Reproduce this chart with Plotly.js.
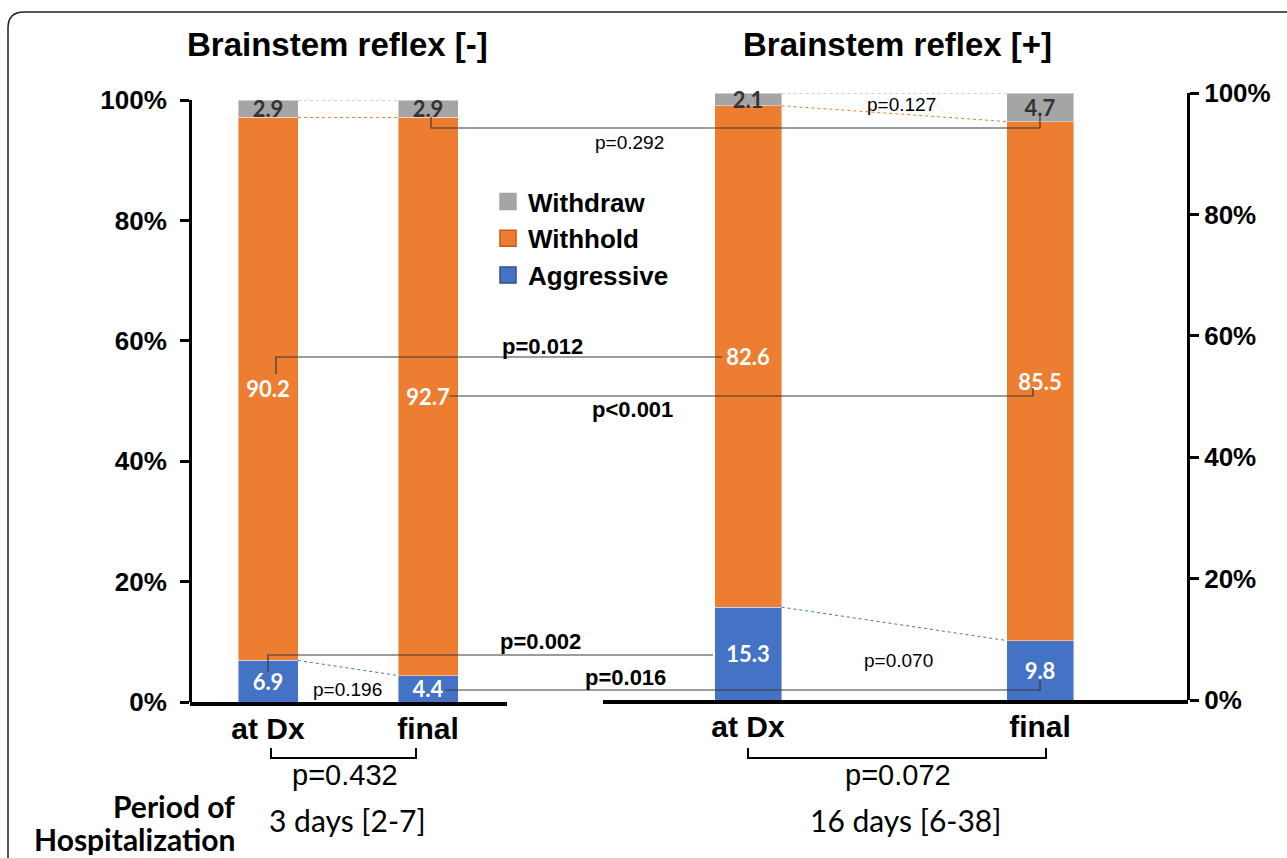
<!DOCTYPE html>
<html><head><meta charset="utf-8">
<script src="https://cdn.plot.ly/plotly-3.0.1.min.js"></script>
<style>html,body{margin:0;padding:0;background:#fff}#chart{width:1287px;height:858px}</style>
</head><body><div id="chart"></div><script>
// ---------- data ----------
const categories = ['at Dx', 'final'];
const seriesNames = ['Aggressive', 'Withhold', 'Withdraw'];
const legendOrder = ['Withdraw', 'Withhold', 'Aggressive'];
// Brainstem reflex [-]
const negAggressive = [6.9, 4.4];
const negWithhold = [90.2, 92.7];
const negWithdraw = [2.9, 2.9];
// Brainstem reflex [+]
const posAggressive = [15.3, 9.8];
const posWithhold = [82.6, 85.5];
const posWithdraw = [2.1, 4.7];
const yTickVals = [0, 20, 40, 60, 80, 100];
const yTickLabels = ['0%', '20%', '40%', '60%', '80%', '100%'];
const panelTitles = ['Brainstem reflex [-]', 'Brainstem reflex [+]'];
const periodLabel = ['Period of', 'Hospitalization'];
const periodTexts = ['3 days [2-7]', '16 days [6-38]'];
const periodPValues = ['p=0.432', 'p=0.072'];

// ---------- layout helpers ----------
const W = 1287, H = 858;
const px = x => x / W;
const py = y => 1 - y / H;
const ARIAL = 'Liberation Sans, Arial, sans-serif';
const CALIBRI = 'Lato, Carlito, Calibri, sans-serif';
const colors = {Aggressive: '#4472C4', Withhold: '#ED7D31', Withdraw: '#A5A5A5'};
const legendEdge = {Aggressive: '#2F528F', Withhold: '#C55A11', Withdraw: '#A5A5A5'};
const textColors = {Aggressive: '#ffffff', Withhold: '#ffffff', Withdraw: '#333333'};
const xIdx = categories.map((c, i) => i);

const panels = [
  {vals: {Aggressive: negAggressive, Withhold: negWithhold, Withdraw: negWithdraw}, xa: 'x', ya: 'y', width: 0.375},
  {vals: {Aggressive: posAggressive, Withhold: posWithhold, Withdraw: posWithdraw}, xa: 'x2', ya: 'y2', width: 0.2295}
];

const traces = [];
panels.forEach(p => {
  seriesNames.forEach(name => {
    const v = p.vals[name];
    traces.push({
      type: 'bar', name: name, x: xIdx, y: v, xaxis: p.xa, yaxis: p.ya,
      width: p.width, showlegend: false,
      marker: {color: colors[name], line: {color: 'rgba(255,255,255,0.45)', width: 1}},
      text: v.map(d => d.toFixed(1)), textposition: 'inside', insidetextanchor: 'middle',
      constraintext: 'none', cliponaxis: false,
      textfont: {family: CALIBRI, size: 22, color: textColors[name], weight: 700},
      hoverinfo: 'skip'
    });
  });
  // series lines between bar tops
  let cum = [0, 0];
  seriesNames.forEach(name => {
    cum = cum.map((c, i) => c + p.vals[name][i]);
    traces.push({
      type: 'scatter', mode: 'lines', x: [xIdx[0] + p.width / 2, xIdx[1] - p.width / 2], y: cum.slice(),
      xaxis: p.xa, yaxis: p.ya, showlegend: false, hoverinfo: 'skip', cliponaxis: false,
      line: {color: colors[name], width: 1, dash: 'dot'}
    });
  });
});
// legend entries (square swatches)
legendOrder.forEach(name => traces.push({
  type: 'scatter', mode: 'markers', name: name, x: [null], y: [null], xaxis: 'x', yaxis: 'y',
  marker: {symbol: 'square', size: 16, color: colors[name], line: {color: legendEdge[name], width: 1.5}},
  showlegend: true, hoverinfo: 'skip'
}));

const yCommon = {
  range: [0, 100.001], tickvals: yTickVals, ticktext: yTickLabels,
  ticks: 'outside', ticklen: 9, tickwidth: 3, tickcolor: '#000',
  showline: true, linewidth: 3, linecolor: '#000', showgrid: false, zeroline: false,
  tickfont: {family: ARIAL, size: 26, color: '#000', weight: 700}, fixedrange: true
};
const xCommon = {
  tickvals: xIdx, ticktext: categories, ticks: '', showline: true, linewidth: 4, linecolor: '#000',
  showgrid: false, zeroline: false, tickfont: {family: ARIAL, size: 30, color: '#000', weight: 700},
  fixedrange: true, ticklabelstandoff: -3
};

// connector lines (annotation graphics)
const lineStyle = {color: '#3a3a3a', width: 1.2};
const pathOf = pts => 'M' + pts.map(p => px(p[0]) + ',' + py(p[1])).join('L');
const connectors = [
  [[431, 117], [431, 128], [1040, 128], [1040, 116]],
  [[276, 374], [276, 357], [722, 357]],
  [[449, 396], [1033, 396], [1033, 388]],
  [[268, 672], [268, 655], [713, 655]],
  [[445, 690], [1040, 690], [1040, 680]]
];
const shapes = connectors.map(c => ({type: 'path', xref: 'paper', yref: 'paper', path: pathOf(c), line: lineStyle}));
[[[271, 748], [271, 758], [416, 758], [416, 748]], [[748, 748], [748, 758], [1046, 758], [1046, 748]]].forEach(c =>
  shapes.push({type: 'path', xref: 'paper', yref: 'paper', path: pathOf(c), line: {color: '#000', width: 2}}));
shapes.push({type: 'path', xref: 'paper', yref: 'paper', line: {color: '#222', width: 1.5},
  path: `M${px(8)},${py(880)}L${px(8)},${py(28)}Q${px(8)},${py(12)} ${px(24)},${py(12)}L${px(1300)},${py(12)}`});

const ann = (text, x, y, size, opts = {}) => Object.assign({
  text: text, x: px(x), y: py(y), xref: 'paper', yref: 'paper', showarrow: false,
  xanchor: 'center', yanchor: 'middle',
  font: {family: opts.family || ARIAL, size: size, color: '#000', weight: opts.bold ? 700 : 400}
}, opts.extra || {});

const annotations = [
  ann(panelTitles[0], 337, 44, 33, {bold: true}),
  ann(panelTitles[1], 897, 44, 33, {bold: true}),
  ann('p=0.292', 629, 142, 19),
  ann('p=0.127', 901, 104, 19),
  ann('p=0.012', 542, 346, 22, {bold: true}),
  ann('p<0.001', 632, 410, 22, {bold: true}),
  ann('p=0.002', 540, 641, 22, {bold: true}),
  ann('p=0.016', 625, 677, 22, {bold: true}),
  ann('p=0.196', 347, 689, 19),
  ann('p=0.070', 898, 660, 19),
  ann(periodPValues[0], 345, 775, 29),
  ann(periodPValues[1], 898, 775, 29),
  ann(periodLabel[0], 237, 806, 30, {bold: true, family: CALIBRI, extra: {xanchor: 'right', height: 32}}),
  ann(periodLabel[1], 237, 857, 30, {bold: true, family: CALIBRI, extra: {xanchor: 'right', yanchor: 'bottom', height: 33}}),
  ann(periodTexts[0], 347, 820, 30, {family: CALIBRI}),
  ann(periodTexts[1], 905, 820, 30, {family: CALIBRI})
];

const layout = {
  width: W, height: H, autosize: false,
  margin: {l: 0, r: 0, t: 0, b: 0, pad: 0},
  paper_bgcolor: '#fff', plot_bgcolor: 'rgba(0,0,0,0)',
  barmode: 'stack', showlegend: true,
  uniformtext: {mode: 'show', minsize: 22},
  legend: {x: px(488), y: py(178), xanchor: 'left', yanchor: 'top', traceorder: 'normal',
    bgcolor: 'rgba(0,0,0,0)', font: {family: ARIAL, size: 26, color: '#000', weight: 700}},
  xaxis: Object.assign({}, xCommon, {domain: [px(190), px(507)], range: [-0.4875, 1.49375], anchor: 'y'}),
  xaxis2: Object.assign({}, xCommon, {domain: [px(603), px(1188)], range: [-0.4966, 1.5068], anchor: 'y2'}),
  yaxis: Object.assign({}, yCommon, {domain: [py(702), py(100)], anchor: 'free', position: px(190), side: 'left', ticklabelstandoff: 8}),
  yaxis2: Object.assign({}, yCommon, {domain: [py(700), py(93)], anchor: 'free', position: px(1188), side: 'right', ticklabelstandoff: 0}),
  shapes: shapes,
  annotations: annotations
};

Plotly.newPlot('chart', traces, layout, {staticPlot: true, displayModeBar: false});
</script></body></html>
